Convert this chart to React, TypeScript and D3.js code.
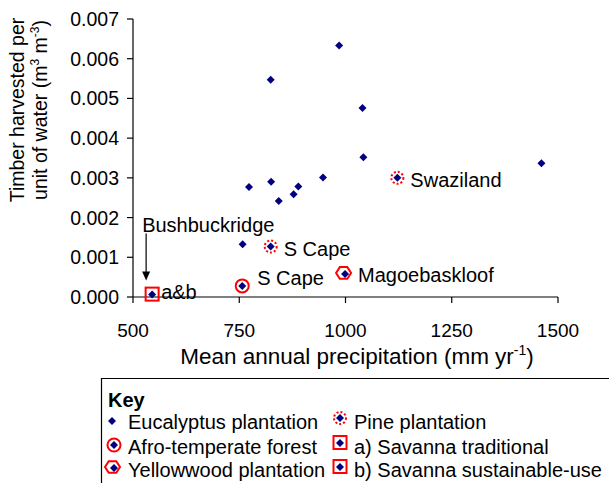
import React from "react";
import { scaleLinear } from "d3";

// values: [mean annual precipitation (mm/yr), timber per water (m3/m3)]
const eucalyptus: [number, number][] = [
  [985, 0.00633],
  [824, 0.00547],
  [1040, 0.00476],
  [1042, 0.00352],
  [947, 0.00301],
  [773, 0.00277],
  [825, 0.0029],
  [889, 0.00278],
  [878, 0.00259],
  [843, 0.00242],
  [758, 0.00133],
  [1461, 0.00337],
];
const pine: [number, number, string][] = [
  [1122, 0.003, "Swaziland"],
  [824, 0.00127, "S Cape"],
];
const afroTemperate: [number, number, string][] = [[757, 0.00028, "S Cape"]];
const yellowwood: [number, number, string][] = [[999, 0.00058, "Magoebaskloof"]];
const savanna: [number, number, string][] = [[545, 0.00006, "a&b"]];

const xTicks = [500, 750, 1000, 1250, 1500];
const yTicks = [0, 0.001, 0.002, 0.003, 0.004, 0.005, 0.006, 0.007];

const NAVY = "#000080";
const RED = "#ff0000";
const FONT = "'Liberation Sans', Arial, sans-serif";

const Diamond = ({ x, y }: { x: number; y: number }) => (
  <path d={`M${x},${y - 4}L${x + 4},${y}L${x},${y + 4}L${x - 4},${y}Z`} fill={NAVY} />
);

const hexPath = (x: number, y: number, r: number) => {
  const pts = [0, 60, 120, 180, 240, 300].map((a) => {
    const t = (a * Math.PI) / 180;
    return [x + r * Math.cos(t), y + r * 0.9 * Math.sin(t)];
  });
  return "M" + pts.map((p) => p.join(",")).join("L") + "Z";
};

const PineMark = ({ x, y }: { x: number; y: number }) => (
  <g>
    <circle cx={x} cy={y} r={6} fill="none" stroke={RED} strokeWidth={2} strokeDasharray="2 2" />
    <Diamond x={x} y={y} />
  </g>
);
const AfroMark = ({ x, y }: { x: number; y: number }) => (
  <g>
    <circle cx={x} cy={y} r={6.5} fill="none" stroke={RED} strokeWidth={2} />
    <Diamond x={x} y={y} />
  </g>
);
const YellowMark = ({ x, y }: { x: number; y: number }) => (
  <g>
    <path d={hexPath(x - 1.5, y - 1, 7.5)} fill="none" stroke={RED} strokeWidth={2} />
    <Diamond x={x} y={y} />
  </g>
);
const SavannaMark = ({ x, y }: { x: number; y: number }) => (
  <g>
    <rect x={x - 6.5} y={y - 7} width={13} height={13} fill="none" stroke={RED} strokeWidth={2} />
    <Diamond x={x} y={y} />
  </g>
);

export default function App() {
  const x = scaleLinear().domain([500, 1500]).range([133, 558]);
  const y = scaleLinear().domain([0, 0.007]).range([297, 19]);

  return (
    <svg
      width={609}
      height={483}
      style={{ position: "absolute", left: 0, top: 0, background: "#fff" }}
      fontFamily={FONT}
    >
      {/* axes */}
      <line x1={x(500)} x2={x(1500)} y1={y(0)} y2={y(0)} stroke="#000" strokeWidth={1.2} />
      <line x1={x(500)} x2={x(500)} y1={y(0)} y2={y(0.007)} stroke="#000" strokeWidth={1.2} />
      {xTicks.map((t) => (
        <g key={t}>
          <line x1={x(t)} x2={x(t)} y1={y(0)} y2={y(0) + 6} stroke="#000" strokeWidth={1.2} />
          <text x={x(t)} y={337} fontSize={19} textAnchor="middle">
            {t}
          </text>
        </g>
      ))}
      {yTicks.map((t) => (
        <g key={t}>
          <line x1={x(500) - 6} x2={x(500)} y1={y(t)} y2={y(t)} stroke="#000" strokeWidth={1.2} />
          <text x={119} y={y(t) + 7} fontSize={19.5} textAnchor="end">
            {t.toFixed(3)}
          </text>
        </g>
      ))}

      <text x={357} y={364} fontSize={22.5} textAnchor="middle">
        Mean annual precipitation (mm
        <tspan dx={6}>yr</tspan>
        <tspan fontSize={14} dy={-9}>
          -1
        </tspan>
        <tspan dy={9}>)</tspan>
      </text>
      <g transform="translate(0,110) rotate(-90)">
        <text x={0} y={24} fontSize={19.5} textAnchor="middle">
          Timber harvested per
        </text>
        <text x={0} y={47} fontSize={19.5} textAnchor="middle">
          unit of water (m
          <tspan fontSize={12} dy={-8}>3</tspan>
          <tspan dy={8}> m</tspan>
          <tspan fontSize={12} dy={-8}>-3</tspan>
          <tspan dy={8}>)</tspan>
        </text>
      </g>

      {/* points */}
      {eucalyptus.map(([a, b], i) => (
        <Diamond key={i} x={x(a)} y={y(b)} />
      ))}
      {pine.map(([a, b, l], i) => (
        <g key={i}>
          <PineMark x={x(a)} y={y(b)} />
          <text x={x(a) + 13} y={y(b) + 9} fontSize={20}>
            {l}
          </text>
        </g>
      ))}
      {afroTemperate.map(([a, b, l], i) => (
        <g key={i}>
          <AfroMark x={x(a)} y={y(b)} />
          <text x={x(a) + 15} y={y(b) - 1} fontSize={20}>
            {l}
          </text>
        </g>
      ))}
      {yellowwood.map(([a, b, l], i) => (
        <g key={i}>
          <YellowMark x={x(a)} y={y(b)} />
          <text x={x(a) + 13} y={y(b) + 8} fontSize={20}>
            {l}
          </text>
        </g>
      ))}
      {savanna.map(([a, b, l], i) => (
        <g key={i}>
          <SavannaMark x={x(a)} y={y(b)} />
          <text x={x(a) + 9} y={y(b) + 4} fontSize={20}>
            {l}
          </text>
          <text x={x(a) - 10} y={y(b) - 63} fontSize={20}>
            Bushbuckridge
          </text>
          <line x1={x(a) - 6} x2={x(a) - 6} y1={y(b) - 61} y2={y(b) - 22} stroke="#000" strokeWidth={1.2} />
          <path
            d={`M${x(a) - 10},${y(b) - 23}L${x(a) - 2},${y(b) - 23}L${x(a) - 6},${y(b) - 14}Z`}
            fill="#000"
          />
        </g>
      ))}

      {/* key */}
      <path d="M609,378.5H101.5V483" fill="none" stroke="#000" strokeWidth={1.2} />
      <text x={108} y={407} fontSize={20} fontWeight="bold">
        Key
      </text>
      <Diamond x={112} y={421} />
      <text x={128} y={429} fontSize={20}>
        Eucalyptus plantation
      </text>
      <AfroMark x={114} y={445} />
      <text x={128} y={454} fontSize={20}>
        Afro-temperate forest
      </text>
      <YellowMark x={114} y={468} />
      <text x={128} y={477} fontSize={20}>
        Yellowwood plantation
      </text>
      <PineMark x={340} y={418} />
      <text x={354} y={429} fontSize={20}>
        Pine plantation
      </text>
      <SavannaMark x={340} y={443} />
      <text x={354} y={454} fontSize={20}>
        a) Savanna traditional
      </text>
      <SavannaMark x={340} y={467} />
      <text x={354} y={477} fontSize={20}>
        b) Savanna sustainable-use
      </text>
    </svg>
  );
}
